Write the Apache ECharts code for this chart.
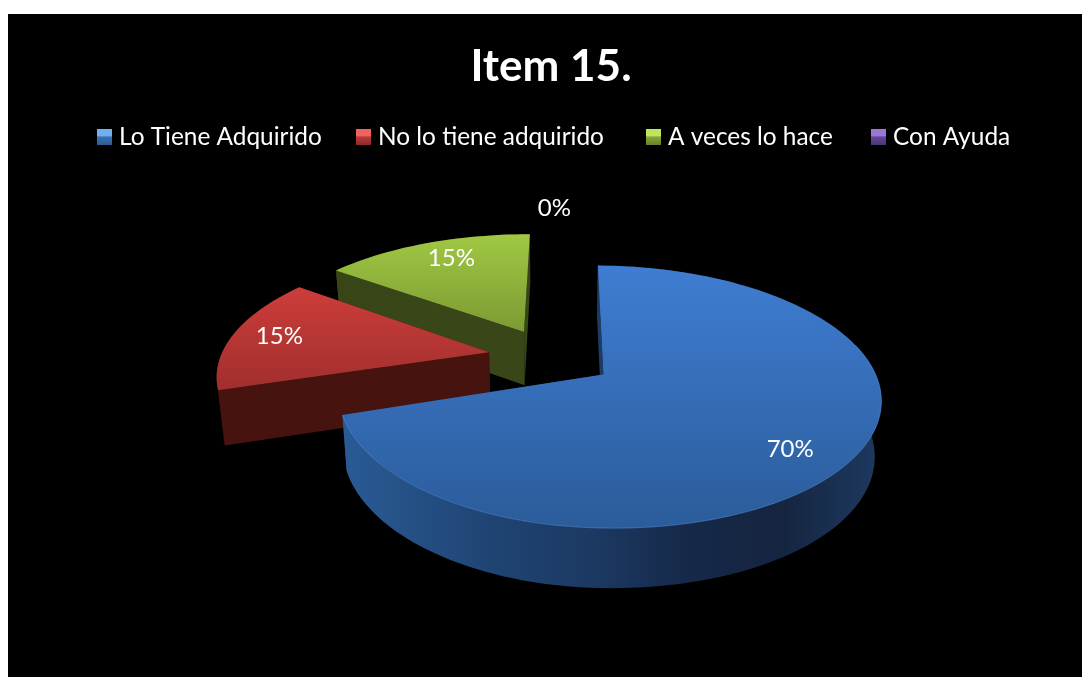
<!DOCTYPE html>
<html><head><meta charset="utf-8">
<style>html,body{margin:0;padding:0;background:#fff}#c{width:1082px;height:677px}</style>
<script src="https://cdn.jsdelivr.net/npm/echarts@6/dist/echarts.min.js"></script>
</head><body><div id="c"></div>
<script>
var titleText = 'Item 15.';
var categories = ['Lo Tiene Adquirido', 'No lo tiene adquirido', 'A veces lo hace', 'Con Ayuda'];
var values = [70, 15, 15, 0];
var legendLeft = [97, 356, 646, 871];
var topColors = [['#3f7dd2', '#2b5c9a'], ['#cd3d3a', '#a02f2d'], ['#a0c843', '#7c9a33'], ['#7a58ad', '#5a3f8a']];
var sideColors = [
  [[0, '#2a5b95'], [0.14, '#244f84'], [0.29, '#1f4372'], [0.48, '#1b3860'], [0.63, '#16294a'], [0.81, '#15243f'], [1, '#1d3a60']],
  [[0, '#46130f'], [1, '#46130f']],
  [[0, '#384516'], [1, '#384516']],
  [[0, '#3a2a55'], [1, '#3a2a55']]
];
var faceColors = ['#1c3c66', '#46130f', '#394617', '#3a2a55'];
var legendColors = [['#6fb0f0', '#3a70b0', '#2d5c94'], ['#ee6360', '#b83a38', '#8e2a28'], ['#c0e45c', '#86a636', '#68822a'], ['#9a78d4', '#62469a', '#4c3576']];

// projection of the pie plane
var CX = 551.5, CY = 357, A = 268.6, B = 121.6, K = 0.166, EXPLODE = 0.237, ROT = 0.5, DEPTH = 54, SHRINK = 0.98;
var total = values.reduce(function (a, b) { return a + b; }, 0);
var rad = Math.PI / 180;
function proj(X, Y, low) {
  var s = 1 / (1 + K * Y);
  var x = CX + A * X * s, y = CY - B * Y * s;
  if (low) { x = CX + (x - CX) * SHRINK; y += DEPTH * Math.sqrt(s); }
  return [x, y];
}
function grad(x0, y0, x1, y1, stops) {
  return new echarts.graphic.LinearGradient(x0, y0, x1, y1, stops.map(function (p) { return { offset: p[0], color: p[1] }; }));
}
function renderSlice(i) {
  // the foremost slice is slightly narrower in the reference's perspective
  function warp(X) { return i === 0 ? (X < 0 ? X * 0.945 : X * 0.99) : X; }
  return function () {
    var before = 0;
    for (var k = 0; k < i; k++) before += values[k];
    var a0 = ROT + before / total * 360, a1 = a0 + values[i] / total * 360, mid = (a0 + a1) / 2;
    var ox = EXPLODE * Math.sin(mid * rad), oy = EXPLODE * Math.cos(mid * rad);
    var children = [];
    var lr = values[i] === 0 ? 1.3 : i === 1 ? 0.82 : 0.8;
    var la = (mid + (i === 0 ? 5 : i === 2 ? 2.5 : 0)) * rad;
    var lp = proj(ox + lr * Math.sin(la), oy + lr * Math.cos(la));
    if (values[i] > 0) {
      var topArc = [], lowArc = [];
      var n = Math.max(12, Math.round(values[i] * 2));
      for (var j = 0; j <= n; j++) {
        var t = (a0 + (a1 - a0) * j / n) * rad;
        topArc.push(proj(warp(ox + Math.sin(t)), oy + Math.cos(t)));
        lowArc.push(proj(warp(ox + Math.sin(t)), oy + Math.cos(t), true));
      }
      var apexT = proj(warp(ox), oy), apexL = proj(warp(ox), oy, true);
      // the two cut faces
      children.push({ type: 'polygon', shape: { points: [topArc[0], apexT, apexL, lowArc[0]] }, style: { fill: faceColors[i] } });
      children.push({ type: 'polygon', shape: { points: [topArc[n], apexT, apexL, lowArc[n]] }, style: { fill: faceColors[i] } });
      // side wall along the rim
      children.push({ type: 'polygon', shape: { points: topArc.concat(lowArc.slice().reverse()) },
        style: { fill: grad(0, 0, 1, 0, sideColors[i]) } });
      // top surface
      children.push({ type: 'polygon', shape: { points: [apexT].concat(topArc) },
        style: { fill: grad(0, 0, 0, 1, [[0, topColors[i][0]], [1, topColors[i][1]]]) } });
      if (i === 0) {
        children.push({ type: 'polyline', shape: { points: topArc.slice(Math.round(n * 0.3)) },
          style: { fill: null, stroke: '#5490da', lineWidth: 1, opacity: 0.55 } });
      }
    }
    children.push({ type: 'text', style: { text: values[i] + '%', x: lp[0], y: lp[1], align: 'center', verticalAlign: 'middle',
      fill: '#fff', font: '24px Lato' } });
    return { type: 'group', children: children };
  };
}
var series = categories.map(function (name, i) {
  return { type: 'custom', name: name, coordinateSystem: 'none', data: [values[i]], z: 3 - Math.min(i, 3) + 1, silent: true,
    renderItem: renderSlice(i), itemStyle: { color: topColors[i][0] } };
});
var legends = categories.map(function (name, i) {
  var c = legendColors[i];
  return { data: [{ name: name, icon: 'rect', itemStyle: { color: grad(0, 0, 0, 1, [[0, c[0]], [0.42, c[0]], [0.5, c[1]], [1, c[2]]]) } }],
    left: legendLeft[i], top: 125, itemWidth: 15, itemHeight: 16, itemGap: 0, padding: 0, selectedMode: false,
    textStyle: { color: '#fff', fontFamily: 'Lato', fontSize: 24.4, padding: [0, 0, 0, 2] } };
});
var chart = echarts.init(document.getElementById('c'), null, { renderer: 'canvas' });
chart.setOption({
  animation: false,
  backgroundColor: '#fff',
  title: { text: titleText, left: 551, top: 45, textAlign: 'center', padding: 0,
    textStyle: { color: '#fff', fontFamily: 'Lato', fontWeight: 'bold', fontSize: 44 } },
  legend: legends,
  graphic: [{ type: 'rect', z: -10, silent: true, shape: { x: 8, y: 14, width: 1074, height: 663 }, style: { fill: '#000' } }],
  series: series
});
</script></body></html>
